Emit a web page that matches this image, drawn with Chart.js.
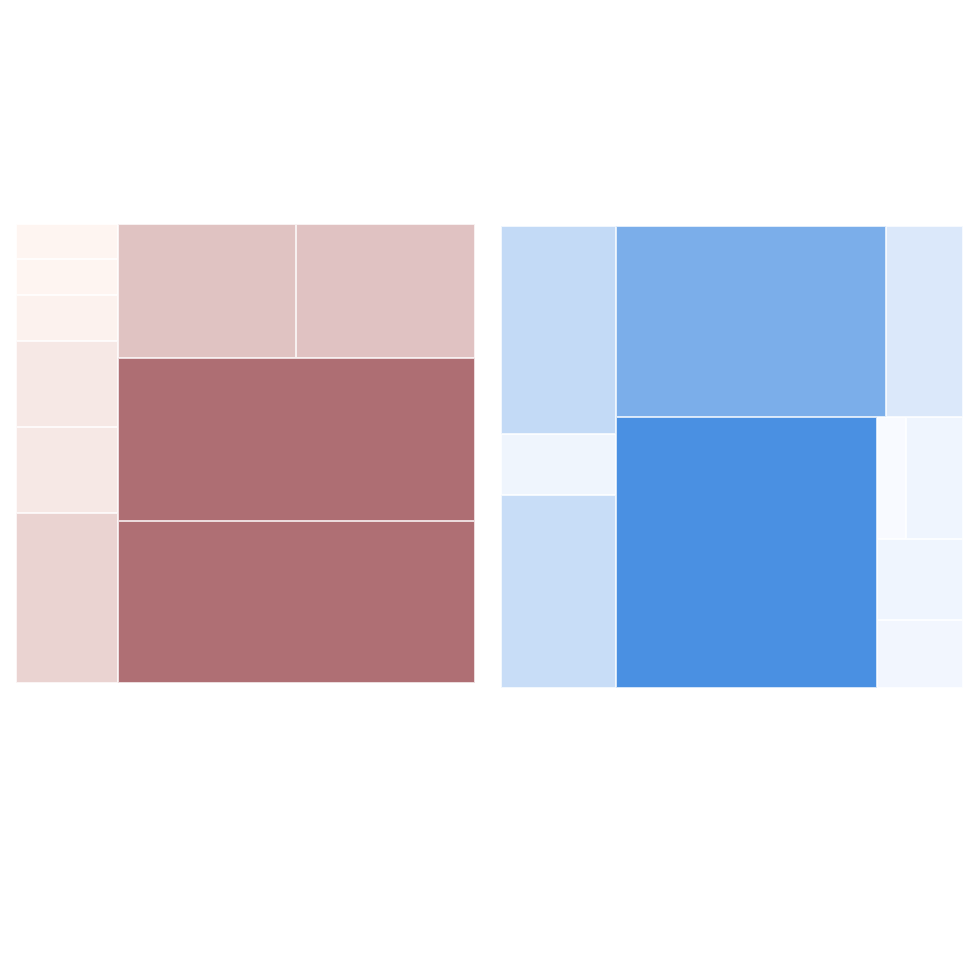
<!DOCTYPE html>
<html>
<head>
<meta charset="utf-8">
<script src="https://cdn.jsdelivr.net/npm/chart.js@4.4.1/dist/chart.umd.min.js"></script>
<style>
  html, body { margin: 0; padding: 0; background: #ffffff; }
  body { width: 980px; height: 980px; position: relative; overflow: hidden; }
  canvas { position: absolute; }
  #left { left: 16px; top: 224px; }
  #right { left: 501px; top: 226px; }
</style>
</head>
<body>
<canvas id="left" width="459" height="459"></canvas>
<canvas id="right" width="462" height="462"></canvas>
<script>
// ---- data ----
const leftCategories = ["L1", "L2", "L3", "L4", "L5", "L6", "L7", "L8", "L9", "L10"];
const leftValues = [17, 17.5, 22.3, 41.7, 41.7, 82.5, 112.8, 114.1, 276, 274];
const rightCategories = ["R1", "R2", "R3", "R4", "R5", "R6", "R7", "R8", "R9", "R10"];
const rightValues = [112, 32.9, 104, 241.6, 68.9, 331, 16.6, 32.6, 32.6, 27.4];

// ---- colour ends ----
const leftLight = [254, 245, 241], leftDark = [174, 110, 115];
const rightLight = [248, 250, 255], rightDark = [74, 144, 226];

function lerpColor(a, b, t) {
  return 'rgb(' + a.map((c, i) => Math.round(c + (b[i] - c) * t)).join(',') + ')';
}

// d3-style squarify (golden ratio)
function squarify(values, x0, y0, x1, y1, ratio) {
  const nodes = values.map((v, i) => ({ v, i }));
  let value = values.reduce((a, b) => a + b, 0);
  const out = [];
  let i0 = 0, i1 = 0;
  const n = nodes.length;
  while (i0 < n) {
    const dx = x1 - x0, dy = y1 - y0;
    let sumValue = nodes[i1++].v;
    let minV = sumValue, maxV = sumValue;
    const alpha = Math.max(dy / dx, dx / dy) / (value * ratio);
    let beta = sumValue * sumValue * alpha;
    let minRatio = Math.max(maxV / beta, beta / minV);
    for (; i1 < n; ++i1) {
      const nv = nodes[i1].v;
      sumValue += nv;
      if (nv < minV) minV = nv;
      if (nv > maxV) maxV = nv;
      beta = sumValue * sumValue * alpha;
      const nr = Math.max(maxV / beta, beta / minV);
      if (nr > minRatio) { sumValue -= nv; break; }
      minRatio = nr;
    }
    const row = nodes.slice(i0, i1);
    if (dx < dy) {
      const ny = value ? y0 + dy * sumValue / value : y1;
      let x = x0; const k = (x1 - x0) / sumValue;
      row.forEach(nd => { const nx = x + nd.v * k; out.push({ i: nd.i, x0: x, y0: y0, x1: nx, y1: ny }); x = nx; });
      y0 = ny;
    } else {
      const nx = value ? x0 + dx * sumValue / value : x1;
      let y = y0; const k = (y1 - y0) / sumValue;
      row.forEach(nd => { const ny = y + nd.v * k; out.push({ i: nd.i, x0: x0, y0: y, x1: nx, y1: ny }); y = ny; });
      x0 = nx;
    }
    value -= sumValue; i0 = i1;
  }
  return out;
}

const treemapPlugin = {
  id: 'treemapCells',
  afterDatasetsDraw(chart) {
    const ds = chart.data.datasets[0];
    const vals = ds.treeValues;
    const min = Math.min(...vals), max = Math.max(...vals);
    const rects = squarify(vals, 0, 0, 1, 1, (1 + Math.sqrt(5)) / 2);
    const xs = chart.scales.x, ys = chart.scales.y;
    const ctx = chart.ctx;
    ctx.save();
    const boxes = rects.map(r => ({
      i: r.i,
      x0: Math.round(xs.getPixelForValue(r.x0)),
      x1: Math.round(xs.getPixelForValue(r.x1)),
      y0: Math.round(ys.getPixelForValue(r.y0)),
      y1: Math.round(ys.getPixelForValue(r.y1))
    }));
    boxes.forEach(b => {
      const t = (vals[b.i] - min) / (max - min);
      ctx.fillStyle = lerpColor(ds.lightColor, ds.darkColor, t);
      ctx.fillRect(b.x0, b.y0, b.x1 - b.x0, b.y1 - b.y0);
    });
    ctx.strokeStyle = 'rgba(255,255,255,0.75)';
    ctx.lineWidth = 1;
    boxes.forEach(b => {
      ctx.strokeRect(b.x0 + 0.5, b.y0 + 0.5, b.x1 - b.x0 - 1, b.y1 - b.y0 - 1);
    });
    ctx.restore();
  }
};

function makeChart(id, cats, vals, light, dark) {
  return new Chart(document.getElementById(id), {
    type: 'scatter',
    data: {
      labels: cats,
      datasets: [{ data: [], treeValues: vals, lightColor: light, darkColor: dark }]
    },
    options: {
      responsive: false,
      animation: false,
      layout: { padding: 0 },
      plugins: { legend: { display: false }, tooltip: { enabled: false } },
      scales: {
        x: { type: 'linear', min: 0, max: 1, display: false },
        y: { type: 'linear', min: 0, max: 1, reverse: true, display: false }
      }
    },
    plugins: [treemapPlugin]
  });
}

makeChart('left', leftCategories, leftValues, leftLight, leftDark);
makeChart('right', rightCategories, rightValues, rightLight, rightDark);
</script>
</body>
</html>
